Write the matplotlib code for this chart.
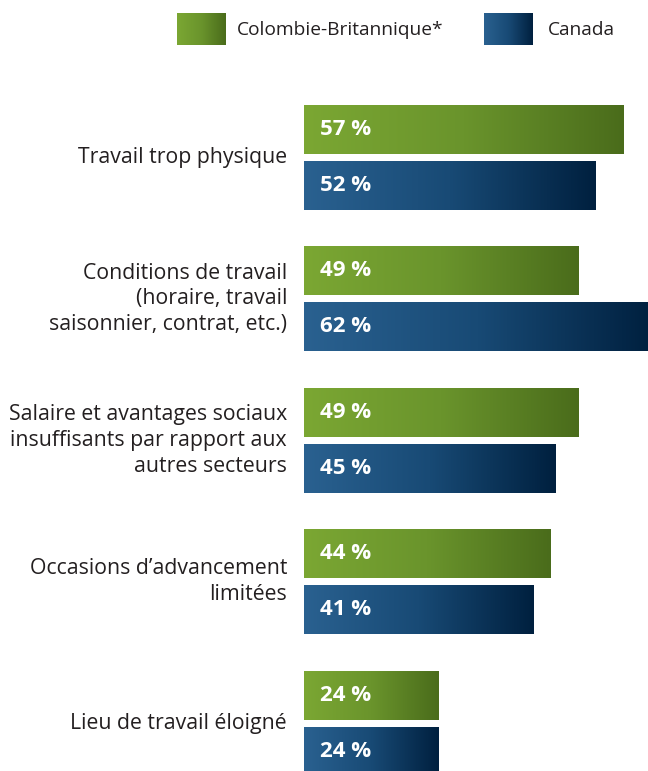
import numpy as np
import matplotlib.pyplot as plt
from matplotlib.colors import LinearSegmentedColormap

categories = ["Travail trop physique",
              "Conditions de travail\n(horaire, travail\nsaisonnier, contrat, etc.)",
              "Salaire et avantages sociaux\ninsuffisants par rapport aux\nautres secteurs",
              "Occasions d\u2019advancement\nlimitées",
              "Lieu de travail éloigné"]
cb_vals = [57, 49, 49, 44, 24]
ca_vals = [52, 62, 45, 41, 24]
series_names = ["Colombie-Britannique*", "Canada"]

plt.rcParams['font.family'] = ['Open Sans', 'DejaVu Sans']

green = LinearSegmentedColormap.from_list("g", ["#7ba733", "#6a942c", "#4a6c1b"])
blue = LinearSegmentedColormap.from_list("b", ["#2a6190", "#184a75", "#00203f"])
grad = np.linspace(0, 1, 256).reshape(1, -1)

W, H = 648, 771
fig = plt.figure(figsize=(W/100, H/100), dpi=100)
ax = fig.add_axes([304/W, 0, 1 - 304/W, 1])

y = np.arange(len(categories))
off = 0.198
h = 0.347

def gradient_bars(ypos, vals, cmap):
    bars = ax.barh(ypos, vals, height=h, color='none', edgecolor='none')
    for b, v in zip(bars, vals):
        x0, y0 = b.get_x(), b.get_y()
        im = ax.imshow(grad, cmap=cmap, aspect='auto',
                       extent=[x0, x0 + b.get_width(), y0 + b.get_height(), y0],
                       zorder=2)
        im.set_clip_path(b)
        ax.annotate(f"{v} %", (0, b.get_y() + b.get_height()/2),
                    xytext=(16, 0), textcoords='offset pixels',
                    ha='left', va='center', color='white',
                    fontsize=16, fontweight='bold', zorder=3)

gradient_bars(y - off, cb_vals, green)
gradient_bars(y + off, ca_vals, blue)

for yi, lab in zip(y, categories):
    ax.annotate(lab, (0, yi), xytext=(-17, 0), textcoords='offset pixels',
                ha='right', va='center', fontsize=15.3, color='#231f20',
                linespacing=1.3, annotation_clip=False)

ax.set_xlim(0, 344/5.6)
ax.set_ylim((H - 157.5)/141.4, -157.5/141.4)
ax.axis('off')

# legend with gradient swatches
for (x0, tx, name, cmap) in [(177, 237, series_names[0], green), (484, 548, series_names[1], blue)]:
    lax = fig.add_axes([x0/W, 1 - 45/H, 49/W, 32/H])
    lax.imshow(grad, cmap=cmap, aspect='auto')
    lax.axis('off')
    fig.text(tx/W, 1 - 30/H, name, ha='left', va='center',
             fontsize=13.8, color='#231f20')

fig.savefig("out.png", dpi=100)
